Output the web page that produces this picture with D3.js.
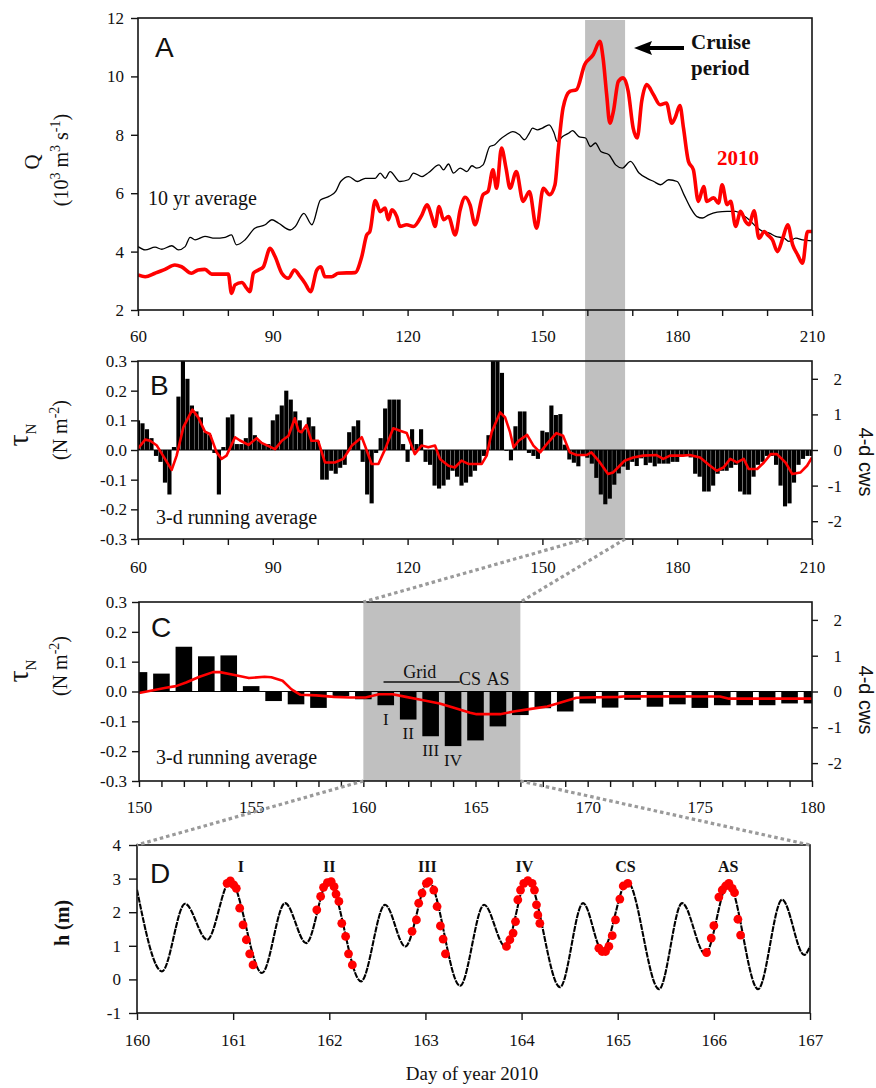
<!DOCTYPE html>
<html>
<head>
<meta charset="utf-8">
<script src="https://cdn.jsdelivr.net/npm/d3@7/dist/d3.min.js"></script>
<style>
html,body{margin:0;padding:0;background:#fff;}
svg{display:block;}
</style>
</head>
<body>
<svg id="chart" width="876" height="1088"></svg>
<script>
// ================= DATA =================
// Panel A: discharge Q (10^3 m3 s-1)
const avgDays = [60,61.6,63.8,65.3,67.5,69.0,70.5,71.6,72.7,74.9,77.1,79.4,80.8,81.9,83.8,86.0,88.3,89.8,91.3,93.9,95.0,96.9,98.7,100.6,102.5,104.0,105.1,106.9,108.8,110.6,112.8,113.9,115.0,116.1,118.3,120.2,121.3,123.2,124.7,127.0,128.0,129.1,130.2,131.7,133.2,134.3,135.4,136.8,138.3,139.4,140.5,142.0,143.4,144.9,146.0,147.1,147.8,148.9,150.0,151.5,152.6,153.3,154.5,155.9,156.7,158.1,159.6,160.7,161.8,163.0,164.8,166.3,167.8,169.6,171.5,173.3,174.8,176.3,178.1,180.0,181.5,183.0,184.4,185.6,187.0,188.9,191.1,193.0,194.5,196.0,197.5,199.0,200.5,201.9,203.8,204.9,206.4,207.9,210];
const avgQ = [4.17,4.06,4.15,4.08,4.2,4.06,4.17,4.49,4.4,4.52,4.46,4.49,4.57,4.23,4.4,4.8,4.92,5.09,4.97,4.74,4.86,5.31,4.92,5.77,5.89,6.06,6.4,6.57,6.4,6.51,6.51,6.69,6.51,6.74,6.4,6.46,6.69,6.57,6.71,6.97,6.8,7.0,6.69,6.86,6.74,6.94,6.86,6.97,7.6,7.66,7.83,8.0,8.11,8.0,7.83,8.06,8.23,8.17,8.23,8.34,8.06,7.77,7.94,8.06,8.14,7.94,7.89,7.6,7.72,7.43,7.32,6.97,6.86,7.09,6.69,6.51,6.4,6.29,6.46,6.4,5.95,5.49,5.2,5.15,5.26,5.35,5.38,5.38,5.26,5.09,4.86,4.69,4.63,4.52,4.46,4.35,4.46,4.4,4.37];
const q2010Days = [60,61.6,63.8,66.0,68.2,69.7,71.9,73.4,74.9,76.4,80.1,80.8,81.6,83.1,84.2,84.9,85.7,86.8,87.9,89.4,90.5,92.0,93.5,94.8,96.1,97.2,98.4,99.8,100.7,101.6,103.1,104.6,108.3,109.8,110.9,111.6,112.8,113.9,115.0,115.7,116.5,117.6,118.3,119.8,121.3,123.2,124.3,125.5,126.1,127.0,128.0,129.1,130.6,131.7,132.8,133.9,135.0,136.8,137.9,139.0,139.8,140.9,141.9,142.8,144.2,145.7,147.1,148.7,150.2,151.6,152.8,153.5,154.6,156.1,157.6,159.4,161.3,162.8,163.5,164.3,165.0,165.8,166.9,168.0,169.1,170.2,171.1,172.1,173.2,174.7,176.2,177.6,178.8,179.5,180.6,181.4,182.5,183.6,184.7,185.9,186.6,188.1,189.2,190.0,191.1,191.9,193.0,194.1,195.2,196.0,197.1,198.2,199.4,200.1,201.2,202.3,203.5,204.6,205.7,206.8,207.9,209.0,210];
const q2010 = [3.2,3.14,3.26,3.39,3.54,3.48,3.26,3.37,3.39,3.23,3.23,2.57,2.86,2.94,2.74,2.63,3.26,3.37,3.48,4.11,3.83,3.26,3.09,3.37,3.14,2.91,2.63,3.37,3.48,3.14,3.14,3.26,3.28,3.83,4.57,4.69,5.75,5.37,5.49,5.09,5.43,5.2,4.86,4.92,4.86,5.26,5.6,5.14,4.86,5.54,5.09,5.2,4.57,5.43,5.86,5.6,4.92,5.95,6.06,6.8,6.17,7.55,6.86,6.17,6.74,5.72,6.06,4.8,6.17,5.95,6.29,7.43,8.92,9.49,9.55,10.4,10.74,11.2,10.63,9.38,8.4,8.8,9.83,9.95,9.49,8.23,7.89,9.15,9.72,9.38,9.03,9.09,8.4,8.57,9.0,8.23,7.09,6.8,5.72,6.23,5.72,5.84,5.66,6.29,5.61,5.72,4.86,5.38,5.03,4.92,5.4,4.46,4.69,4.58,4.4,4.0,4.46,4.92,4.23,3.89,3.6,4.69,4.69];
const cruiseBand = [159.5, 168.4];
const xTicksAB = [60,70,80,90,100,110,120,130,140,150,160,170,180,190,200,210];
const yTicksA = [2,4,6,8,10,12];

// Panel B: daily along-shelf wind stress tau_N (N m-2), days 60..210
const stressFirstDay = 60;
const dailyStress = [
 0.10,0.09,0.07,0.04,-0.02,-0.04,-0.11,-0.15,0.01,0.18,
 0.30,0.24,0.15,0.13,0.11,0.06,0.05,-0.01,-0.15,0.01,
 0.11,0.12,0.02,0.02,0.04,0.11,0.05,0.03,0.02,0.02,
 0.10,0.12,0.15,0.20,0.17,0.13,0.10,0.07,0.11,0.08,
 0.03,-0.10,-0.10,-0.07,-0.08,-0.06,-0.05,0.06,0.08,0.10,
 -0.04,-0.15,-0.18,-0.01,0.04,0.14,0.17,0.17,0.17,0.02,
 -0.04,0.07,0.02,0.07,-0.04,-0.05,-0.12,-0.13,-0.12,-0.10,
 -0.07,-0.09,-0.12,-0.11,-0.09,-0.07,-0.05,-0.02,0.05,0.30,
 0.30,0.26,0.00,-0.035,0.08,0.13,0.13,-0.01,-0.02,-0.03,
 0.065,0.06,0.15,0.118,0.121,0.018,-0.032,-0.043,-0.055,-0.015,
 -0.026,-0.046,-0.094,-0.15,-0.183,-0.164,-0.117,-0.079,-0.056,-0.067,
 -0.040,-0.054,-0.028,-0.051,-0.043,-0.055,-0.046,-0.046,-0.046,-0.040,
 -0.040,-0.02,-0.02,-0.025,-0.08,-0.09,-0.14,-0.14,-0.12,-0.08,
 -0.07,-0.07,-0.06,-0.05,-0.14,-0.15,-0.15,-0.09,-0.05,-0.04,
 -0.02,-0.02,-0.05,-0.12,-0.19,-0.18,-0.11,-0.05,-0.03,-0.02,-0.02];
const runDaysB = [60,61.6,62.7,64.2,66.0,67.5,68.6,70.1,72.1,73.4,74.9,76.0,77.5,78.6,79.7,81.6,82.7,84.6,86.4,87.5,90.5,92.0,93.5,94.9,95.7,96.4,97.5,98.6,100.1,101.6,103.8,105.7,107.6,109.8,110.5,112.0,113.5,115.0,116.8,118.3,119.8,121.6,123.1,124.6,126.1,127.2,129.1,130.5,132.0,133.5,136.5,137.6,138.7,140.6,141.7,142.8,143.6,144.7,146.6,148.0,149.5,151.3,153.1,154.6,156.1,157.6,159.8,160.9,162.8,164.6,165.7,167.2,168.3,170.2,172.4,175.4,176.9,178.4,181.3,182.8,185.1,187.3,188.8,190.3,191.8,193.3,194.8,195.9,197.8,199.3,200.8,202.2,204.1,205.6,207.4,208.9,210];
const runStressB = [0.005,0.035,0.031,0.015,-0.03,-0.067,-0.019,0.077,0.136,0.11,0.062,0.054,-0.008,-0.03,-0.019,0.043,0.032,0.017,0.04,0.024,0.003,0.031,0.048,0.107,0.065,0.06,0.084,0.031,0.031,-0.042,-0.042,-0.03,0.015,0.043,0.015,-0.047,-0.047,0.003,0.073,0.065,0.057,-0.014,0.015,0.009,0.015,-0.03,-0.053,-0.059,-0.036,-0.047,-0.047,-0.019,0.06,0.127,0.11,0.06,0.009,0.031,0.051,0.015,-0.008,0.026,0.057,0.048,-0.008,-0.017,-0.017,-0.008,-0.042,-0.081,-0.076,-0.053,-0.036,-0.025,-0.019,-0.017,-0.03,-0.019,-0.019,-0.017,-0.025,-0.053,-0.07,-0.059,-0.03,-0.042,-0.03,-0.064,-0.064,-0.042,-0.014,-0.014,-0.042,-0.081,-0.076,-0.053,-0.025];
const yTicksBC = [-0.3,-0.2,-0.1,0,0.1,0.2,0.3];
const cwsTicks = [-2,-1,0,1,2];

// Panel C: zoom days 150..180
const zoomDays = [150,180];
const runDaysC = [150,151.2,151.65,152.1,152.7,153.3,153.6,154.2,154.9,155.6,155.9,156.4,156.8,157.2,157.9,158.7,159.4,160.1,160.7,161.3,161.9,162.5,163.4,164.0,164.76,165.05,166.1,166.7,167.4,168.2,168.8,169.5,169.95,171.4,171.7,175.9,176.3,179.2,180];
const runStressC = [-0.005,0.0125,0.018,0.030,0.0495,0.065,0.065,0.056,0.045,0.0495,0.048,0.036,0.007,-0.011,-0.013,-0.018,-0.020,-0.020,-0.009,-0.009,-0.018,-0.027,-0.040,-0.054,-0.071,-0.076,-0.076,-0.067,-0.059,-0.050,-0.037,-0.021,-0.020,-0.018,-0.016,-0.017,-0.024,-0.024,-0.024];
const samplingBand = [160,167];
const gridLabels = ["I","II","III","IV"];
const gridLabelDays = [161,162,163,164];

// Panel D: tidal height h (m)
const tideDays = [160.0,160.26,160.50,160.73,160.97,161.30,161.54,161.76,161.99,162.33,162.58,162.79,163.03,163.36,163.61,163.83,164.06,164.40,164.64,164.84,165.10,165.43,165.67,165.91,166.15,166.46,166.71,166.94,167.0];
const tideH = [2.67,0.24,2.25,1.18,2.93,0.19,2.27,1.08,2.93,-0.06,2.22,0.98,2.93,-0.19,2.22,0.98,2.98,-0.23,2.27,0.86,2.91,-0.29,2.27,0.76,2.86,-0.29,2.37,0.73,0.98];
const surveyNames = ["I","II","III","IV","CS","AS"];
const surveyLabelDays = [161.08,162.0,163.02,164.03,165.08,166.15];
const sampleDays = [
 [160.937,160.971,161.006,161.033,161.068,161.103,161.137,161.172,161.207],
 [161.87,161.91,161.94,161.98,162.02,162.05,162.07,162.10,162.13,162.17,162.20,162.24],
 [162.861,162.906,162.930,162.965,163.010,163.035,163.087,163.121,163.156,163.184,163.208],
 [163.843,163.878,163.912,163.937,163.961,163.989,164.023,164.065,164.110,164.134,164.155,164.169,164.190],
 [164.804,164.838,164.873,164.908,164.943,164.977,165.022,165.057,165.105],
 [165.924,165.973,166.000,166.052,166.087,166.122,166.156,166.191,166.215,166.250,166.278]];
const sampleH = [
 [2.86,2.93,2.81,2.71,2.12,1.62,1.18,0.76,0.43],
 [2.07,2.47,2.74,2.88,2.91,2.76,2.54,2.32,1.67,1.28,0.76,0.43],
 [1.43,1.77,2.27,2.57,2.86,2.91,2.66,2.17,1.59,1.20,0.76],
 [0.98,1.18,1.38,1.72,2.37,2.66,2.86,2.94,2.86,2.66,2.22,1.92,1.67],
 [0.93,0.83,0.83,0.98,1.30,1.77,2.39,2.78,2.86],
 [0.80,1.23,1.60,2.45,2.66,2.78,2.86,2.71,2.58,1.79,1.32]];
const yTicksD = [-1,0,1,2,3,4];
const xTicksD = [160,161,162,163,164,165,166,167];

// ================= DRAWING =================
const svg = d3.select("#chart");
const SERIF = "'Liberation Serif','Times New Roman',Times,serif";
const SANS = "'Liberation Sans',Arial,Helvetica,sans-serif";
const INK = "#141414";
const RED = "#ff0000";
const BAND = "#c0c0c0";

const PA = {l:138, r:812, t:18,  b:310};
const PB = {l:138, r:812, t:361, b:539};
const PC = {l:139, r:812, t:602, b:781};
const PD = {l:137, r:810, t:845, b:1013};

const defs = svg.append("defs");
function clip(id, p){
  defs.append("clipPath").attr("id", id).append("rect")
    .attr("x", p.l).attr("y", p.t).attr("width", p.r - p.l).attr("height", p.b - p.t);
}
clip("clipA", PA); clip("clipB", PB); clip("clipC", PC); clip("clipD", PD);

function styleAxis(g, fs){
  g.attr("font-family", SERIF).attr("font-size", fs);
  g.select(".domain").remove();
  g.selectAll(".tick line").attr("stroke", INK).attr("stroke-width", 1.4);
  g.selectAll(".tick text").attr("font-family", SERIF).attr("font-size", fs).attr("fill", "#111");
}
function frame(p){
  svg.append("rect").attr("x", p.l).attr("y", p.t).attr("width", p.r - p.l).attr("height", p.b - p.t)
    .attr("fill", "none").attr("stroke", INK).attr("stroke-width", 1.6);
}
function txt(x, y, s, opts){
  const o = Object.assign({fs:18, ff:SERIF, fw:"normal", fill:"#111", anchor:"start", rot:0}, opts||{});
  const t = svg.append("text")
    .attr("transform", `translate(${x},${y})` + (o.rot ? ` rotate(${o.rot})` : ""))
    .attr("font-family", o.ff).attr("font-size", o.fs).attr("font-weight", o.fw)
    .attr("fill", o.fill).attr("text-anchor", o.anchor);
  if (s !== null) t.text(s);
  return t;
}

// ---------- scales ----------
const xA = d3.scaleLinear().domain([60,210]).range([PA.l, PA.r]);
const yA = d3.scaleLinear().domain([2,12]).range([PA.b, PA.t]);
const xB = d3.scaleLinear().domain([60,210]).range([PB.l, PB.r]);
const yB = d3.scaleLinear().domain([-0.3,0.3]).range([PB.b, PB.t]);
const yBr = d3.scaleLinear().domain([-2.5,2.5]).range([PB.b, PB.t]);
const xC = d3.scaleLinear().domain(zoomDays).range([PC.l, PC.r]);
const yC = d3.scaleLinear().domain([-0.3,0.3]).range([PC.b, PC.t]);
const yCr = d3.scaleLinear().domain([-2.5,2.5]).range([PC.b, PC.t]);
const xD = d3.scaleLinear().domain([160,167]).range([PD.l, PD.r]);
const yD = d3.scaleLinear().domain([-1,4]).range([PD.b, PD.t]);

// ---------- cruise band spanning A and B ----------
svg.append("rect")
  .attr("x", xA(cruiseBand[0])).attr("y", PA.t + 2)
  .attr("width", xA(cruiseBand[1]) - xA(cruiseBand[0]))
  .attr("height", PB.b - PA.t - 2)
  .attr("fill", BAND);

// ================= PANEL A =================
const lineA = d3.line().x(d => xA(d[0])).y(d => yA(d[1])).curve(d3.curveMonotoneX);
svg.append("path").datum(d3.zip(avgDays, avgQ)).attr("d", lineA)
  .attr("clip-path", "url(#clipA)")
  .attr("fill", "none").attr("stroke", "#000").attr("stroke-width", 1.3).attr("stroke-linejoin", "round");
svg.append("path").datum(d3.zip(q2010Days, q2010)).attr("d", lineA)
  .attr("clip-path", "url(#clipA)")
  .attr("fill", "none").attr("stroke", RED).attr("stroke-width", 3.6).attr("stroke-linejoin", "round");

svg.append("g").attr("transform", `translate(0,${PA.b})`)
  .call(d3.axisBottom(xA).tickValues(xTicksAB).tickSize(6).tickPadding(14).tickSizeOuter(0)
    .tickFormat(d => d % 30 === 0 ? d : ""))
  .call(g => styleAxis(g, 17));
svg.append("g").attr("transform", `translate(${PA.l},0)`)
  .call(d3.axisLeft(yA).tickValues(yTicksA).tickSize(7).tickPadding(7).tickSizeOuter(0))
  .call(g => styleAxis(g, 17));
frame(PA);

txt(155, 57, "A", {ff:SANS, fs:28});
txt(148, 205, "10 yr average", {fs:20});
txt(691, 49, "Cruise", {fs:21, fw:"bold"});
txt(691, 75, "period", {fs:21, fw:"bold"});
txt(717, 165, "2010", {fs:21, fw:"bold", fill:RED});
// arrow
svg.append("line").attr("x1", 684).attr("y1", 48).attr("x2", 646).attr("y2", 48)
  .attr("stroke", "#000").attr("stroke-width", 4);
svg.append("path").attr("d", "M634,48 L652,41 L649,48 L652,55 Z").attr("fill", "#000");

// y label A
txt(39, 162, "Q", {fs:21, anchor:"middle", rot:-90});
{
  const t = txt(68, 160, null, {fs:20, anchor:"middle", rot:-90});
  t.append("tspan").text("(10");
  t.append("tspan").attr("dy", -8).attr("font-size", 14).text("3");
  t.append("tspan").attr("dy", 8).text(" m");
  t.append("tspan").attr("dy", -8).attr("font-size", 14).text("3");
  t.append("tspan").attr("dy", 8).text(" s");
  t.append("tspan").attr("dy", -8).attr("font-size", 14).text("-1");
  t.append("tspan").attr("dy", 8).text(")");
}

// ================= PANEL B =================
const barsB = dailyStress.map((v, i) => [stressFirstDay + i, v]);
svg.append("g").attr("clip-path", "url(#clipB)").selectAll("rect").data(barsB).join("rect")
  .attr("x", d => xB(d[0] - 0.46)).attr("width", xB(0.92) - xB(0))
  .attr("y", d => Math.min(yB(d[1]), yB(0)))
  .attr("height", d => Math.max(0.8, Math.abs(yB(d[1]) - yB(0))))
  .attr("fill", "#000");
svg.append("line").attr("x1", PB.l).attr("x2", PB.r).attr("y1", yB(0)).attr("y2", yB(0))
  .attr("stroke", "#000").attr("stroke-width", 1.2);
svg.append("path").datum(d3.zip(runDaysB, runStressB))
  .attr("d", d3.line().x(d => xB(d[0])).y(d => yB(d[1])))
  .attr("clip-path", "url(#clipB)")
  .attr("fill", "none").attr("stroke", RED).attr("stroke-width", 2.6).attr("stroke-linejoin", "round");

svg.append("g").attr("transform", `translate(0,${PB.b})`)
  .call(d3.axisBottom(xB).tickValues(xTicksAB).tickSize(6).tickPadding(16).tickSizeOuter(0)
    .tickFormat(d => d % 30 === 0 ? d : ""))
  .call(g => styleAxis(g, 17));
svg.append("g").attr("transform", `translate(${PB.l},0)`)
  .call(d3.axisLeft(yB).tickValues(yTicksBC).tickSize(7).tickPadding(4).tickSizeOuter(0)
    .tickFormat(d => d.toFixed(1)))
  .call(g => styleAxis(g, 17));
svg.append("g").attr("transform", `translate(${PB.r},0)`)
  .call(d3.axisRight(yBr).tickValues(cwsTicks).tickSize(6).tickSizeOuter(0).tickFormat(d => String(d)))
  .call(g => styleAxis(g, 17))
  .call(g => g.selectAll(".tick text").attr("text-anchor", "end").attr("x", 30));
frame(PB);

txt(150, 395, "B", {ff:SANS, fs:28});
txt(156, 524, "3-d running average", {fs:20});

function tauLabel(cx, cy){
  const t = txt(28, cy, null, {fs:30, anchor:"middle", rot:-90});
  t.append("tspan").text("τ");
  t.append("tspan").attr("dy", 8).attr("font-size", 15).text("N");
  const u = txt(67, cy - 5, null, {fs:20, anchor:"middle", rot:-90});
  u.append("tspan").text("(N m");
  u.append("tspan").attr("dy", -8).attr("font-size", 14).text("-2");
  u.append("tspan").attr("dy", 8).text(")");
}
tauLabel(28, 435);
txt(859, 462, "4-d cws", {ff:SANS, fs:20, anchor:"middle", rot:90});

// ================= PANEL C =================
svg.append("rect").attr("x", xC(samplingBand[0])).attr("y", PC.t)
  .attr("width", xC(samplingBand[1]) - xC(samplingBand[0])).attr("height", PC.b - PC.t)
  .attr("fill", BAND);
const barsC = barsB.filter(d => d[0] >= zoomDays[0] && d[0] <= zoomDays[1]);
svg.append("line").attr("x1", PC.l).attr("x2", PC.r).attr("y1", yC(0)).attr("y2", yC(0))
  .attr("stroke", "#000").attr("stroke-width", 1.2);
svg.append("g").attr("clip-path", "url(#clipC)").selectAll("rect").data(barsC).join("rect")
  .attr("x", d => xC(d[0] - 0.37)).attr("width", xC(150.74) - xC(150))
  .attr("y", d => Math.min(yC(d[1]), yC(0)))
  .attr("height", d => Math.abs(yC(d[1]) - yC(0)))
  .attr("fill", "#000");
svg.append("path").datum(d3.zip(runDaysC, runStressC))
  .attr("d", d3.line().x(d => xC(d[0])).y(d => yC(d[1])))
  .attr("clip-path", "url(#clipC)")
  .attr("fill", "none").attr("stroke", RED).attr("stroke-width", 2.6).attr("stroke-linejoin", "round");

svg.append("g").attr("transform", `translate(0,${PC.b})`)
  .call(d3.axisBottom(xC).tickValues(d3.range(150, 181)).tickSize(6).tickPadding(14).tickSizeOuter(0)
    .tickFormat(d => d % 5 === 0 ? d : ""))
  .call(g => styleAxis(g, 17));
svg.append("g").attr("transform", `translate(${PC.l},0)`)
  .call(d3.axisLeft(yC).tickValues(yTicksBC).tickSize(7).tickPadding(5).tickSizeOuter(0)
    .tickFormat(d => d.toFixed(1)))
  .call(g => styleAxis(g, 17));
svg.append("g").attr("transform", `translate(${PC.r},0)`)
  .call(d3.axisRight(yCr).tickValues(cwsTicks).tickSize(6).tickSizeOuter(0).tickFormat(d => String(d)))
  .call(g => styleAxis(g, 17))
  .call(g => g.selectAll(".tick text").attr("text-anchor", "end").attr("x", 30));
frame(PC);

txt(151, 637, "C", {ff:SANS, fs:28});
txt(156, 764, "3-d running average", {fs:20});
tauLabel(28, 671);
txt(859, 700, "4-d cws", {ff:SANS, fs:20, anchor:"middle", rot:90});

// grid labels
txt((xC(160.9) + xC(164.3)) / 2 - 2, 678, "Grid", {fs:18, anchor:"middle"});
svg.append("line").attr("x1", xC(160.9)).attr("x2", xC(164.3)).attr("y1", 682).attr("y2", 682)
  .attr("stroke", "#111").attr("stroke-width", 1.3);
txt(xC(164.75), 685, "CS", {fs:18, anchor:"middle"});
txt(xC(166.0), 685, "AS", {fs:18, anchor:"middle"});
gridLabels.forEach((lab, i) => {
  const v = barsC.find(d => d[0] === gridLabelDays[i])[1];
  txt(xC(gridLabelDays[i]), yC(v) + 19.5, lab, {fs:17, anchor:"middle"});
});

// ================= PANEL D =================
svg.append("path").datum(d3.zip(tideDays, tideH))
  .attr("d", d3.line().x(d => xD(d[0])).y(d => yD(d[1])).curve(d3.curveMonotoneX))
  .attr("clip-path", "url(#clipD)")
  .attr("fill", "none").attr("stroke", "#000").attr("stroke-width", 2.1).attr("stroke-dasharray", "6,1");
sampleDays.forEach((days, k) => {
  svg.append("g").selectAll("circle").data(d3.zip(days, sampleH[k])).join("circle")
    .attr("cx", d => xD(d[0])).attr("cy", d => yD(d[1])).attr("r", 4.4).attr("fill", RED);
});

svg.append("g").attr("transform", `translate(0,${PD.b})`)
  .call(d3.axisBottom(xD).tickValues(xTicksD).tickSize(7).tickPadding(14).tickSizeOuter(0)
    .tickFormat(d3.format("d")))
  .call(g => styleAxis(g, 17));
svg.append("g").attr("transform", `translate(${PD.l},0)`)
  .call(d3.axisLeft(yD).tickValues(yTicksD).tickSize(8).tickPadding(8).tickSizeOuter(0)
    .tickFormat(d => String(d)))
  .call(g => styleAxis(g, 17));
frame(PD);

txt(150, 883, "D", {ff:SANS, fs:28});
surveyNames.forEach((s, i) => txt(xD(surveyLabelDays[i]), 872, s, {fs:16, fw:"bold", anchor:"middle"}));
txt(69, 923, "h (m)", {fs:20, fw:"bold", anchor:"middle", rot:-90});
txt(472, 1080, "Day of year 2010", {fs:19, anchor:"middle"});

// ================= dotted connectors =================
const connectors = [
  [xB(cruiseBand[0]), PB.b, xC(samplingBand[0]), PC.t],
  [xB(cruiseBand[1]), PB.b, xC(samplingBand[1]), PC.t],
  [xC(samplingBand[0]), PC.b, xD(160), PD.t],
  [xC(samplingBand[1]), PC.b, xD(167), PD.t]];
svg.append("g").selectAll("line").data(connectors).join("line")
  .attr("x1", d => d[0]).attr("y1", d => d[1]).attr("x2", d => d[2]).attr("y2", d => d[3])
  .attr("stroke", "#9a9a9a").attr("stroke-width", 3.2).attr("stroke-dasharray", "3.5,3");
</script>
</body>
</html>
